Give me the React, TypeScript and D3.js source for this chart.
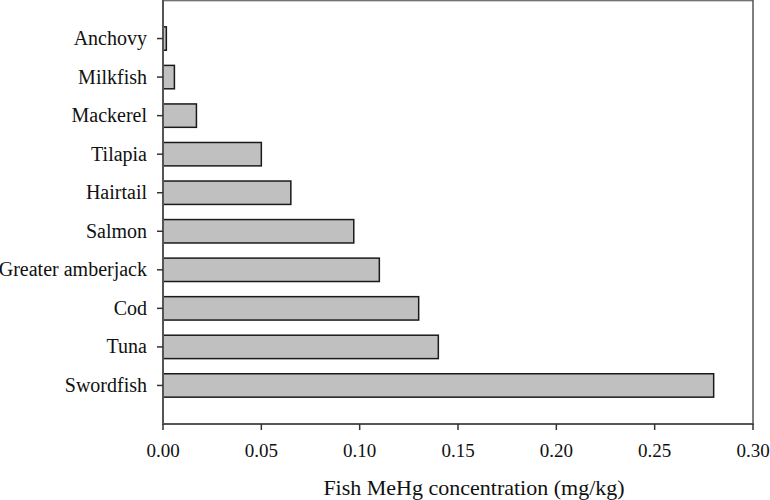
import React from "react";
import * as d3 from "d3";

const categories = ["Anchovy", "Milkfish", "Mackerel", "Tilapia", "Hairtail", "Salmon", "Greater amberjack", "Cod", "Tuna", "Swordfish"];
const values = [0.0017, 0.0058, 0.017, 0.05, 0.065, 0.097, 0.11, 0.13, 0.14, 0.28];
const xTicks = [0, 0.05, 0.1, 0.15, 0.2, 0.25, 0.3];
const xTitle = "Fish MeHg concentration (mg/kg)";

export default function App() {
  const W = 770, H = 500;
  const left = 163, right = 753, top = 0, bottom = 424;
  const x = d3.scaleLinear().domain([0, 0.3]).range([left, right]);
  const y = d3.scaleLinear().domain([-1, categories.length]).range([top, bottom]);
  const step = (bottom - top) / (categories.length + 1);
  const barH = step * 0.607;
  const font = "'Liberation Serif', 'Times New Roman', serif";
  return (
    <svg width={W} height={H} style={{ position: "absolute", left: 0, top: 0, background: "#fff" }} fontFamily={font}>
      {categories.map((c, i) => (
        <rect key={c} x={x(0)} y={y(i) - barH / 2} width={x(values[i]) - x(0)} height={barH}
          fill="#c0c0c0" stroke="#1a1a1a" strokeWidth={1.5} />
      ))}
      {/* frame */}
      <line x1={left} x2={right} y1={top + 0.75} y2={top + 0.75} stroke="#444" strokeWidth={1.2} />
      <line x1={right} x2={right} y1={top} y2={bottom} stroke="#555" strokeWidth={1.5} />
      <line x1={left} x2={left} y1={top} y2={bottom + 1} stroke="#555" strokeWidth={2} />
      <line x1={left - 1} x2={right + 1} y1={bottom} y2={bottom} stroke="#555" strokeWidth={2} />
      {categories.map((c, i) => (
        <g key={c}>
          <line x1={left - 6} x2={left} y1={y(i)} y2={y(i)} stroke="#333" strokeWidth={1.5} />
          <text x={left - 16} y={y(i) + 6.5} textAnchor="end" fontSize={20} fill="#111">{c}</text>
        </g>
      ))}
      {xTicks.map(t => (
        <g key={t}>
          <line x1={x(t)} x2={x(t)} y1={bottom} y2={bottom + 6} stroke="#333" strokeWidth={1.5} />
          <text x={x(t)} y={bottom + 33} textAnchor="middle" fontSize={19} fill="#111">{t.toFixed(2)}</text>
        </g>
      ))}
      <text x={474} y={495} textAnchor="middle" fontSize={22} fill="#111">{xTitle}</text>
    </svg>
  );
}
